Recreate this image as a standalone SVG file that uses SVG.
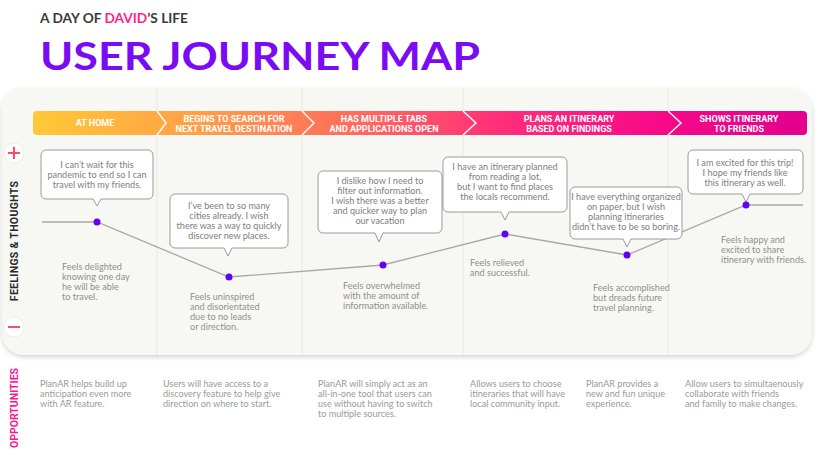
<svg xmlns="http://www.w3.org/2000/svg" width="817" height="454" viewBox="0 0 817 454">
<defs>
<linearGradient id="stg" x1="33" y1="0" x2="807" y2="0" gradientUnits="userSpaceOnUse">
<stop offset="0" stop-color="#ffc936"/>
<stop offset="0.22" stop-color="#ff9e48"/>
<stop offset="0.42" stop-color="#ff6a5e"/>
<stop offset="0.6" stop-color="#ff2f78"/>
<stop offset="0.8" stop-color="#f80a88"/>
<stop offset="1" stop-color="#e2008e"/>
</linearGradient>
<filter id="sh" x="-5%" y="-5%" width="110%" height="115%">
<feDropShadow dx="0" dy="2" stdDeviation="2.5" flood-color="#000" flood-opacity="0.18"/>
</filter>
<style>
.stage{font-family:Roboto,"Liberation Sans",sans-serif;font-weight:bold;font-size:9px;fill:#fff;text-anchor:middle}
.bub{fill:#fff;stroke:#9a9a9a;stroke-width:1}
.bt{font-family:Lato,"Open Sans",sans-serif;font-size:9.1px;fill:#7e7e7e;text-anchor:middle}
.ft{font-family:Lato,"Open Sans",sans-serif;font-size:9.1px;fill:#8f8f8f}
.ot{font-family:Lato,"Open Sans",sans-serif;font-size:9.1px;fill:#9a9a9a}
.div{stroke:#e7e9e1;stroke-width:1}
.dot{fill:#6400f5}
.chev{fill:none;stroke:#fff;stroke-width:1.4}
</style>
</defs>
<rect width="817" height="454" fill="#ffffff"/>
<g id="header">
<text x="40" y="23" font-family="Lato,'Liberation Sans',sans-serif" font-weight="bold" font-size="13.5" fill="#3a3a3a" textLength="148" lengthAdjust="spacingAndGlyphs">A DAY OF <tspan fill="#ff1f8e">DAVID</tspan>’S LIFE</text>
<text x="40" y="70" font-family="Lato,'Liberation Sans',sans-serif" font-weight="bold" font-size="39" fill="#7a0bf3" textLength="440" lengthAdjust="spacingAndGlyphs">USER JOURNEY MAP</text>
</g>
<g id="panel">
<rect x="2" y="88" width="810" height="267" rx="22" fill="#f7f8f3" filter="url(#sh)"/>
<line class="div" x1="157" y1="88" x2="157" y2="355"/>
<line class="div" x1="302" y1="88" x2="302" y2="355"/>
<line class="div" x1="463" y1="88" x2="463" y2="355"/>
<line class="div" x1="668" y1="88" x2="668" y2="355"/>
</g>
<g id="stages">
<rect x="33" y="111" width="774" height="24" rx="4" fill="url(#stg)"/>
<polyline class="chev" points="157,111 166,123 157,135"/>
<polyline class="chev" points="302,111 314,123 302,135"/>
<polyline class="chev" points="463,111 476,123 463,135"/>
<polyline class="chev" points="668,111 681,123 668,135"/>
<text class="stage" x="95" y="126">AT HOME</text>
<text class="stage" x="234" y="122">BEGINS TO SEARCH FOR</text>
<text class="stage" x="234" y="132">NEXT TRAVEL DESTINATION</text>
<text class="stage" x="384" y="122">HAS MULTIPLE TABS</text>
<text class="stage" x="384" y="132">AND APPLICATIONS OPEN</text>
<text class="stage" x="569" y="122">PLANS AN ITINERARY</text>
<text class="stage" x="569" y="132">BASED ON FINDINGS</text>
<text class="stage" x="739" y="122">SHOWS ITINERARY</text>
<text class="stage" x="739" y="132">TO FRIENDS</text>
</g>
<g id="axis">
<circle cx="14" cy="153" r="10" fill="#fff" stroke="#ececec"/>
<path d="M8 153 H20 M14 147 V159" stroke="#ff4a6e" stroke-width="2"/>
<circle cx="14" cy="327" r="10" fill="#fff" stroke="#ececec"/>
<path d="M8 327 H20" stroke="#ff4a6e" stroke-width="2"/>
<text transform="translate(18,241) rotate(-90)" text-anchor="middle" font-family="Roboto,'Liberation Sans',sans-serif" font-weight="bold" font-size="10.5" fill="#2a2a2a" letter-spacing="0.3">FEELINGS  &amp;  THOUGHTS</text>
<text transform="translate(18,408) rotate(-90)" text-anchor="middle" font-family="Roboto,'Liberation Sans',sans-serif" font-weight="bold" font-size="10.5" fill="#ff1493">OPPORTUNITIES</text>
</g>
<g id="connectors">
<polyline points="42,222 97,222 229,277 383,265 505,234 627,255 746,205 803,205" fill="none" stroke="#a8a8a8" stroke-width="1.3"/>
</g>
<g id="node1">
<path class="bub" d="M46 150 H148 A5 5 0 0 1 153 155 V194 A5 5 0 0 1 148 199 H101 L97 206 L93 199 H46 A5 5 0 0 1 41 194 V155 A5 5 0 0 1 46 150 Z"/>
<text class="bt" x="97" y="168">I can’t wait for this</text>
<text class="bt" x="97" y="178">pandemic to end so I can</text>
<text class="bt" x="97" y="188">travel with my friends.</text>
<circle class="dot" cx="97" cy="222" r="3.5"/>
<text class="ft" x="62" y="270">Feels delighted</text>
<text class="ft" x="62" y="280">knowing one day</text>
<text class="ft" x="62" y="290">he will be able</text>
<text class="ft" x="62" y="300">to travel.</text>
</g>
<g id="node2">
<path class="bub" d="M175 194 H283 A5 5 0 0 1 288 199 V243 A5 5 0 0 1 283 248 H232 L228 256 L224 248 H175 A5 5 0 0 1 170 243 V199 A5 5 0 0 1 175 194 Z"/>
<text class="bt" x="229" y="209">I’ve been to so many</text>
<text class="bt" x="229" y="219">cities already. I wish</text>
<text class="bt" x="229" y="229">there was a way to quickly</text>
<text class="bt" x="229" y="239">discover new places.</text>
<circle class="dot" cx="229" cy="277" r="3.5"/>
<text class="ft" x="190" y="300">Feels uninspired</text>
<text class="ft" x="190" y="310">and disorientated</text>
<text class="ft" x="190" y="320">due to no leads</text>
<text class="ft" x="190" y="330">or direction.</text>
</g>
<g id="node3">
<path class="bub" d="M323 171 H437 A5 5 0 0 1 442 176 V228 A5 5 0 0 1 437 233 H383 L379 242 L375 233 H323 A5 5 0 0 1 318 228 V176 A5 5 0 0 1 323 171 Z"/>
<text class="bt" x="380" y="184">I dislike how I need to</text>
<text class="bt" x="380" y="194">filter out information.</text>
<text class="bt" x="380" y="204">I wish there was a better</text>
<text class="bt" x="380" y="214">and quicker way to plan</text>
<text class="bt" x="380" y="224">our vacation</text>
<circle class="dot" cx="383" cy="265" r="3.5"/>
<text class="ft" x="343" y="289">Feels overwhelmed</text>
<text class="ft" x="343" y="299">with the amount of</text>
<text class="ft" x="343" y="309">information available.</text>
</g>
<g id="node4">
<path class="bub" d="M448 157 H562 A5 5 0 0 1 567 162 V207 A5 5 0 0 1 562 212 H509 L505 220 L501 212 H448 A5 5 0 0 1 443 207 V162 A5 5 0 0 1 448 157 Z"/>
<text class="bt" x="505" y="170">I have an itinerary planned</text>
<text class="bt" x="505" y="180">from reading a lot,</text>
<text class="bt" x="505" y="190">but I want to find places</text>
<text class="bt" x="505" y="200">the locals recommend.</text>
<circle class="dot" cx="505" cy="234" r="3.5"/>
<text class="ft" x="470" y="266">Feels relieved</text>
<text class="ft" x="470" y="276">and successful.</text>
</g>
<g id="node5">
<path class="bub" d="M575 187 H677 A5 5 0 0 1 682 192 V234 A5 5 0 0 1 677 239 H631 L627 247 L623 239 H575 A5 5 0 0 1 570 234 V192 A5 5 0 0 1 575 187 Z"/>
<text class="bt" x="626" y="200">I have everything organized</text>
<text class="bt" x="626" y="210">on paper, but I wish</text>
<text class="bt" x="626" y="220">planning itineraries</text>
<text class="bt" x="626" y="230">didn’t have to be so boring.</text>
<circle class="dot" cx="627" cy="255" r="3.5"/>
<text class="ft" x="593" y="291">Feels accomplished</text>
<text class="ft" x="593" y="301">but dreads future</text>
<text class="ft" x="593" y="311">travel planning.</text>
</g>
<g id="node6">
<path class="bub" d="M693 150 H798 A5 5 0 0 1 803 155 V189 A5 5 0 0 1 798 194 H750 L746 202 L742 194 H693 A5 5 0 0 1 688 189 V155 A5 5 0 0 1 693 150 Z"/>
<text class="bt" x="745" y="166">I am excited for this trip!</text>
<text class="bt" x="745" y="176">I hope my friends like</text>
<text class="bt" x="745" y="186">this itinerary as well.</text>
<circle class="dot" cx="746" cy="205" r="3.5"/>
<text class="ft" x="721" y="243">Feels happy and</text>
<text class="ft" x="721" y="253">excited to share</text>
<text class="ft" x="721" y="263">itinerary with friends.</text>
</g>
<g id="opportunities">
<text class="ot" x="40" y="387">PlanAR helps build up</text>
<text class="ot" x="40" y="397">anticipation even more</text>
<text class="ot" x="40" y="407">with AR feature.</text>
<text class="ot" x="163" y="387">Users will have access to a</text>
<text class="ot" x="163" y="397">discovery feature to help give</text>
<text class="ot" x="163" y="407">direction on where to start.</text>
<text class="ot" x="318" y="387">PlanAR will simply act as an</text>
<text class="ot" x="318" y="397">all-in-one tool that users can</text>
<text class="ot" x="318" y="407">use without having to switch</text>
<text class="ot" x="318" y="417">to multiple sources.</text>
<text class="ot" x="470" y="387">Allows users to choose</text>
<text class="ot" x="470" y="397">itineraries that will have</text>
<text class="ot" x="470" y="407">local community input.</text>
<text class="ot" x="586" y="387">PlanAR provides a</text>
<text class="ot" x="586" y="397">new and fun unique</text>
<text class="ot" x="586" y="407">experience.</text>
<text class="ot" x="685" y="387">Allow users to simultaenously</text>
<text class="ot" x="685" y="397">collaborate with friends</text>
<text class="ot" x="685" y="407">and family to make changes.</text>
</g>
</svg>
